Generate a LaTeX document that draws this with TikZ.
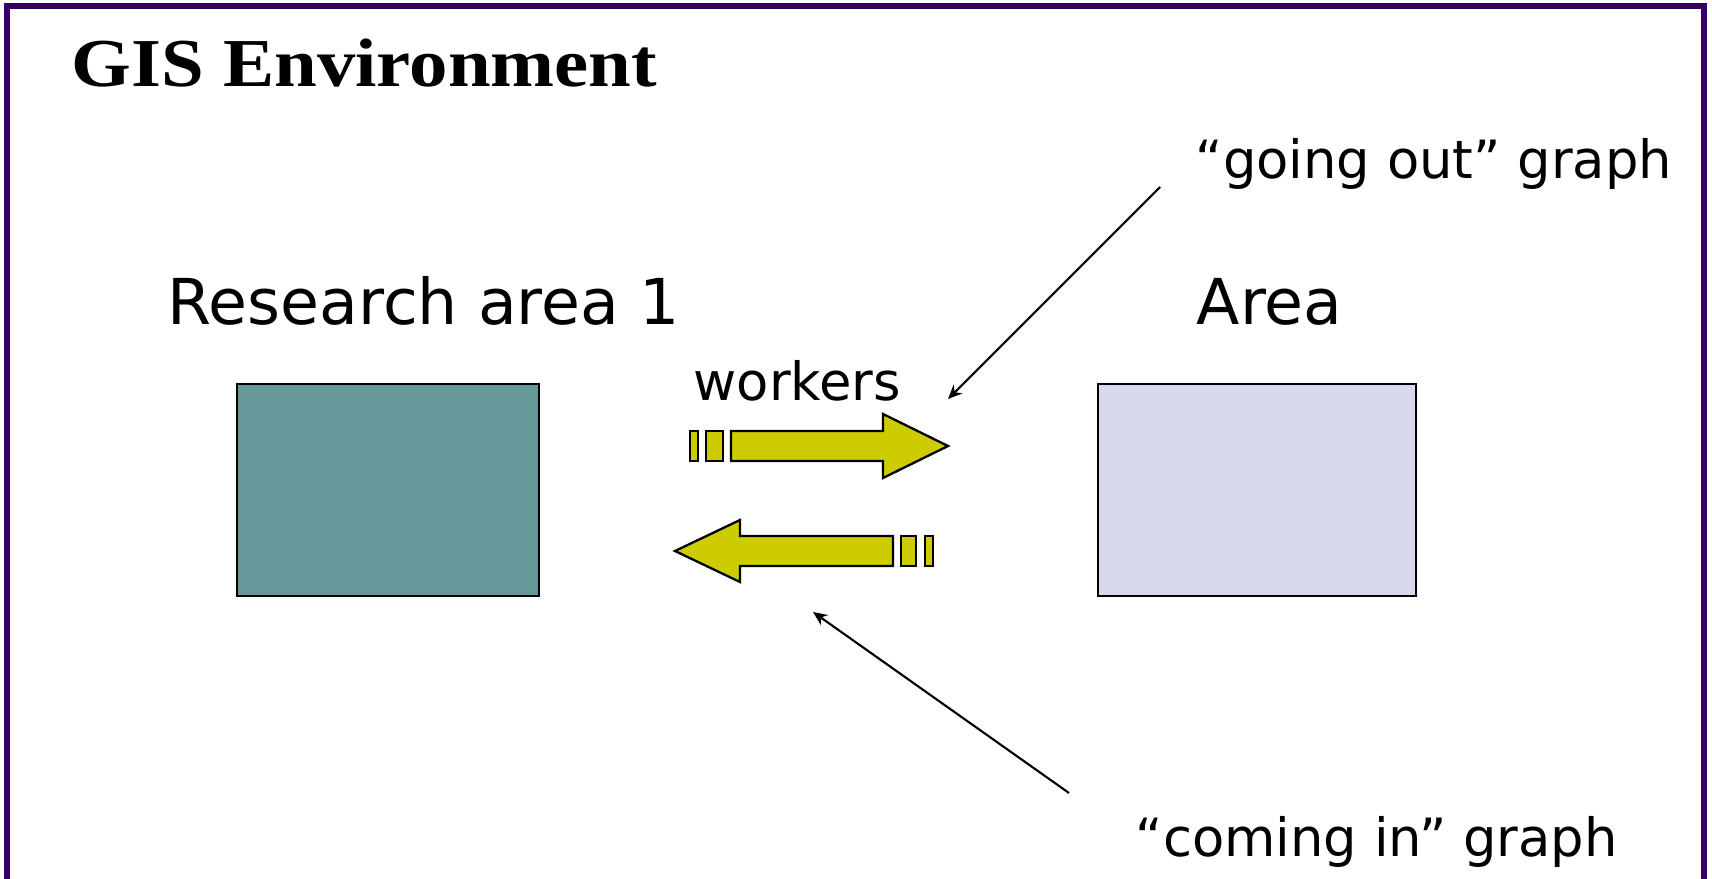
\documentclass[tikz,border=0pt]{standalone}
\usepackage{fontspec}
\setmainfont{DejaVu Sans}
\newfontfamily\titlefont{Liberation Serif}
\usetikzlibrary{arrows.meta, positioning}

\definecolor{framepurple}{RGB}{51,0,102}
\definecolor{tealbox}{RGB}{102,153,153}
\definecolor{lavbox}{RGB}{217,217,237}
\definecolor{flowyellow}{RGB}{204,204,0}

\begin{document}
\begin{tikzpicture}[
    x=0.01cm, y=-0.01cm,
    area/.style={draw=black, line width=0.65pt},
    big/.style={font=\fontsize{18}{21}\selectfont, inner sep=0pt, anchor=base west},
    small/.style={font=\fontsize{15}{18}\selectfont, inner sep=0pt, anchor=base west},
    flow/.style={draw=black, fill=flowyellow, line width=0.65pt, line join=miter},
    ptr/.style={-{Stealth[length=4pt, width=3.5pt]}, line width=0.6pt}
]

\useasboundingbox (0,0) rectangle (1712,879);

% frame, open at the bottom
\draw[framepurple, line width=1.45pt] (7,900) -- (7,6) -- (1704,6) -- (1704,900);

\node[inner sep=0pt, anchor=base west] (title) at (71,87)
    {\scalebox{1.12}[1]{\titlefont\bfseries\fontsize{19.5}{22}\selectfont GIS Environment}};

\node[big] (research) at (167,324) {Research area 1};
\node[big] (area) at (1196,324) {Area};

\draw[area, fill=tealbox] (237,384) rectangle (539,596);
\draw[area, fill=lavbox] (1098,384) rectangle (1416,596);

\node[small] (workers) at (693,400) {workers};

% going out
\draw[flow] (690,431) rectangle (698,461);
\draw[flow] (706,431) rectangle (723,461);
\draw[flow] (731,431) -- (883,431) -- (883,414) -- (948,446)
    -- (883,478) -- (883,461) -- (731,461) -- cycle;

% coming in
\draw[flow] (893,536) -- (740,536) -- (740,520) -- (675,551)
    -- (740,582) -- (740,566) -- (893,566) -- cycle;
\draw[flow] (901,536) rectangle (916,566);
\draw[flow] (925,536) rectangle (933,566);

\node[small] (goingout) at (1195,179) {“going out” graph};
\node[small] (comingin) at (1135,856) {“coming in” graph};

\coordinate (outfrom) at (1160,187);
\coordinate (outto) at (948,399);
\coordinate (infrom) at (1069,793);
\coordinate (into) at (813,612);

\draw[ptr] (outfrom) -- (outto);
\draw[ptr] (infrom) -- (into);

\end{tikzpicture}
\end{document}
